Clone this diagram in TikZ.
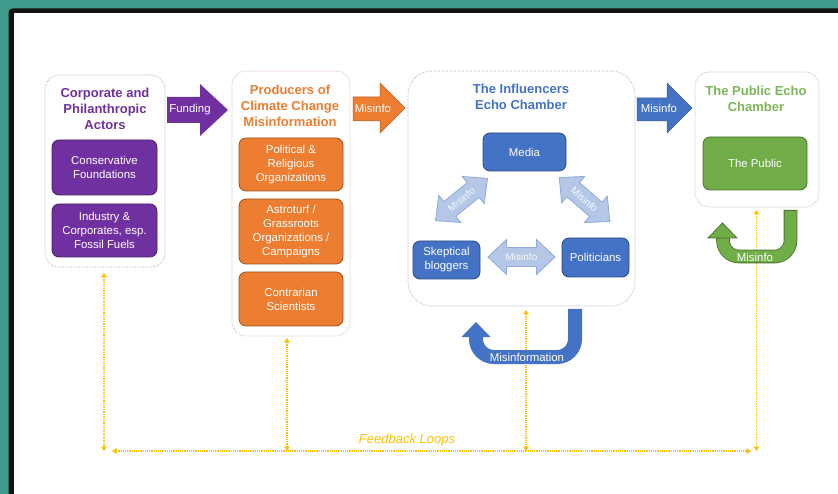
\documentclass[tikz,border=0pt]{standalone}
\usepackage{fontspec}
\setmainfont{Liberation Sans}
\usetikzlibrary{arrows.meta}
\definecolor{teal0}{HTML}{3F9B8C}
\definecolor{ppl}{HTML}{7030A0}
\definecolor{org}{HTML}{ED7D31}
\definecolor{blu}{HTML}{4472C4}
\definecolor{grn}{HTML}{70AD47}
\definecolor{lblu}{HTML}{B4C7E7}
\definecolor{ylw}{HTML}{FFC000}

\tikzset{
  grp/.style={draw=#1, densely dotted, line width=0.6pt, rounded corners=14pt, fill=white},
  ttl/.style={text=#1, font=\fontsize{13}{16}\selectfont\bfseries, align=center, inner sep=0pt},
  item/.style={fill=#1, draw=#1!65!black, line width=0.8pt, rounded corners=7pt, text=white,
    font=\fontsize{11.4}{14}\selectfont, align=center, inner sep=0pt},
  lbl/.style={text=white, font=\fontsize{11.4}{13}\selectfont, inner sep=0pt},
  dlbl/.style={text=white!92!lblu, font=\fontsize{10}{12}\selectfont, inner sep=0pt},
  fb/.style={draw=ylw, line width=1.5pt, dash pattern=on 1.1pt off 1.1pt,
    {Triangle[width=5.5pt,length=4.5pt]}-{Triangle[width=5.5pt,length=4.5pt]}},
  dblarrow/.pic={
    \filldraw[fill=lblu, draw=blu!60, line width=0.8pt]
      (-33.5,0) -- (-15,-17.5) -- (-15,-9.5) -- (15,-9.5) -- (15,-17.5) -- (33.5,0)
      -- (15,17.5) -- (15,9.5) -- (-15,9.5) -- (-15,17.5) -- cycle;
  },
}

\begin{document}
\begin{tikzpicture}[x=1pt,y=-1pt]
\useasboundingbox (0,0) rectangle (838,494);
\clip (0,0) rectangle (838,494);

% frame
\fill[teal0] (0,0) rectangle (838,494);
\fill[black!93, rounded corners=4pt] (8.5,8.5) rectangle (870,530);
\fill[white] (13.5,13.5) rectangle (870,530);

% feedback loops (behind everything else)
\coordinate (c1t) at (104,273);   \coordinate (c1b) at (104,451);
\coordinate (c2t) at (287,338);   \coordinate (c2b) at (287,451);
\coordinate (c3t) at (526,310);   \coordinate (c3b) at (526,451);
\coordinate (c4t) at (756.5,210); \coordinate (c4b) at (756.5,451);
\coordinate (hl) at (112,451);    \coordinate (hr) at (751,451);
\draw[fb] (c1t) -- (c1b);
\draw[fb] (c2t) -- (c2b);
\draw[fb] (c3t) -- (c3b);
\draw[fb] (c4t) -- (c4b);
\draw[fb] (hl) -- (hr);
\node[text=ylw, font=\fontsize{13}{15}\selectfont\itshape, inner sep=0pt] (fbT) at (407,440) {Feedback Loops};

% corporate and philanthropic actors
\node[grp=ppl!35!gray!70, minimum width=120pt, minimum height=192pt] (corp) at (105,171) {};
\node[ttl=ppl] (corpT) at (105,109) {Corporate and\\Philanthropic\\Actors};
\node[item=ppl, minimum width=105pt, minimum height=55pt] (cons) at (104.5,167.5) {Conservative\\Foundations};
\node[item=ppl, minimum width=105pt, minimum height=53pt] (indus) at (104.5,230.5) {Industry \&\\Corporates, esp.\\Fossil Fuels};

% producers
\node[grp=org!50!gray!70, minimum width=118pt, minimum height=265pt] (prod) at (291,203.5) {};
\node[ttl=org] (prodT) at (290,106) {Producers of\\Climate Change\\Misinformation};
\node[item=org, minimum width=104pt, minimum height=53pt] (polit) at (291,164.5) {Political \&\\Religious\\Organizations};
\node[item=org, minimum width=104pt, minimum height=65pt] (astro) at (291,231.5) {Astroturf /\\Grassroots\\Organizations /\\Campaigns};
\node[item=org, minimum width=104pt, minimum height=54pt] (contr) at (291,299) {Contrarian\\Scientists};

% influencers echo chamber
\node[grp=blu!40!gray!70, rounded corners=24pt, minimum width=227pt, minimum height=235pt] (infl) at (521.5,188.5) {};
\node[ttl=blu] (inflT) at (521,97) {The Influencers\\Echo Chamber};
\node[item=blu, minimum width=83pt, minimum height=38pt] (media) at (524.5,152) {Media};
\node[item=blu, minimum width=67pt, minimum height=38pt] (blog) at (446.5,260) {Skeptical\\bloggers};
\node[item=blu, minimum width=67pt, minimum height=39pt] (pols) at (595.5,257.5) {Politicians};

\pic[rotate=39] at (461.5,199.5) {dblarrow};
\node[dlbl, rotate=39] (d1) at (461.5,199.5) {Misinfo};
\pic[rotate=-41] at (584.5,199.5) {dblarrow};
\node[dlbl, rotate=-41] (d2) at (584.5,199.5) {Misinfo};
\pic at (521.5,257) {dblarrow};
\node[dlbl] (d3) at (521.5,257) {Misinfo};

% public echo chamber
\node[grp=grn!40!gray!70, minimum width=124pt, minimum height=135pt] (pub) at (757,139.5) {};
\node[ttl=grn!90!white] (pubT) at (756,99) {The Public Echo\\Chamber};
\node[item=grn, minimum width=104pt, minimum height=53pt] (public) at (755,163.5) {The Public};

% block arrows between the groups
\fill[ppl] (167,97) -- (200,97) -- (200,84) -- (228,110) -- (200,136) -- (200,123) -- (167,123) -- cycle;
\node[lbl] (fund) at (190,110) {Funding};
\filldraw[fill=org, draw=org!75!black, line width=0.5pt]
  (353,97) -- (380,97) -- (380,83) -- (405,108) -- (380,133) -- (380,121) -- (353,121) -- cycle;
\node[lbl] (mis1) at (373,108) {Misinfo};
\filldraw[fill=blu, draw=blu!80!black, line width=0.5pt]
  (637,98) -- (667,98) -- (667,83) -- (692,108) -- (667,133) -- (667,121) -- (637,121) -- cycle;
\node[lbl] (mis2) at (659,108) {Misinfo};

% u-turn arrows
\draw[blu, line width=14pt, rounded corners=18pt] (575,309) -- (575,357) -- (476,357) -- (476,336);
\fill[blu] (461.5,337) -- (476,322) -- (490.5,337) -- cycle;
\node[lbl] (u1) at (527,357) {Misinformation};

\draw[grn!65!black, line width=13.6pt, rounded corners=16pt] (790.5,210) -- (790.5,256.5) -- (723,256.5) -- (723,237);
\draw[grn, line width=12pt, rounded corners=16pt] (790.5,210.8) -- (790.5,256.5) -- (723,256.5) -- (723,237);
\filldraw[fill=grn, draw=grn!65!black, line width=0.8pt] (708,238) -- (722.5,223) -- (737,238) -- cycle;
\node[lbl] (u2) at (755,257) {Misinfo};
\end{tikzpicture}
\end{document}
